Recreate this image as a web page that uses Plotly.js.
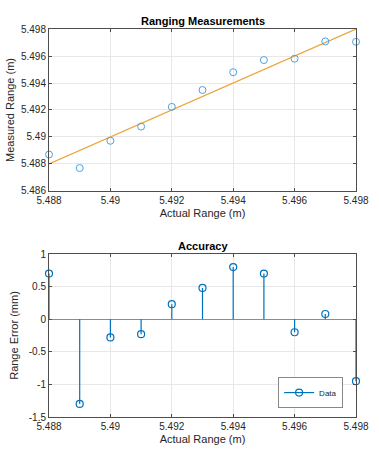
<!DOCTYPE html>
<html>
<head>
<meta charset="utf-8">
<script src="https://cdn.plot.ly/plotly-3.0.1.min.js"></script>
<style>html,body{margin:0;padding:0;background:#fff;}#chart{width:379px;height:456px;}</style>
</head>
<body>
<div id="chart"></div>
<script>
// Data
const actualRange = [5.488, 5.489, 5.490, 5.491, 5.492, 5.493, 5.494, 5.495, 5.496, 5.497, 5.498];
const measuredRange = [5.4887, 5.4877, 5.48972, 5.49077, 5.49223, 5.49348, 5.4948, 5.4957, 5.4958, 5.49708, 5.49705];
const rangeErrorMM = [0.7, -1.3, -0.28, -0.23, 0.23, 0.48, 0.8, 0.7, -0.2, 0.08, -0.95];
const idealX = [5.488, 5.498];
const idealY = [5.488, 5.498];
const xTickVals = [5.488, 5.490, 5.492, 5.494, 5.496, 5.498];
const xTickText = ['5.488', '5.49', '5.492', '5.494', '5.496', '5.498'];
const y1TickVals = [5.486, 5.488, 5.490, 5.492, 5.494, 5.496, 5.498];
const y1TickText = ['5.486', '5.488', '5.49', '5.492', '5.494', '5.496', '5.498'];
const y2TickVals = [-1.5, -1, -0.5, 0, 0.5, 1];
const y2TickText = ['-1.5', '-1', '-0.5', '0', '0.5', '1'];

const blue = '#0072BD';
const lightBlue = '#4DA3E0';
const orange = '#EDA53A';
const axCol = '#4d4d4d';
const txtCol = '#262626';
const font = 'Liberation Sans, Arial, Helvetica, sans-serif';

// stems built from data
const stemX = [], stemY = [];
actualRange.forEach((x, i) => { stemX.push(x, x, null); stemY.push(0, rangeErrorMM[i], null); });

const traces = [
  {x: idealX, y: idealY, mode: 'lines', line: {color: orange, width: 1.2}, xaxis: 'x', yaxis: 'y', showlegend: false, hoverinfo: 'skip'},
  {x: actualRange, y: measuredRange, mode: 'markers', cliponaxis: false, marker: {symbol: 'circle-open', size: 7, color: lightBlue, line: {width: 1}}, xaxis: 'x', yaxis: 'y', showlegend: false},
  {x: stemX, y: stemY, mode: 'lines', line: {color: blue, width: 1.2}, xaxis: 'x2', yaxis: 'y2', showlegend: false, hoverinfo: 'skip'},
  {x: actualRange, y: rangeErrorMM, mode: 'markers', cliponaxis: false, marker: {symbol: 'circle-open', size: 7, color: blue, line: {width: 1.2}}, xaxis: 'x2', yaxis: 'y2', showlegend: false},
  {x: [null], y: [null], mode: 'lines+markers', name: 'Data', line: {color: blue, width: 1.2}, marker: {symbol: 'circle-open', size: 7, color: blue, line: {width: 1.2}}, xaxis: 'x2', yaxis: 'y2', showlegend: true}
];

const axBase = {
  showline: true, linecolor: axCol, linewidth: 1, mirror: 'ticks',
  ticks: 'inside', ticklen: 3, tickcolor: axCol,
  showgrid: true, gridcolor: '#e8e8e8', gridwidth: 1,
  zeroline: false, tickfont: {size: 10, color: txtCol, family: font}
};

const layout = {
  width: 379, height: 456,
  margin: {l: 49, r: 23, t: 29, b: 39},
  paper_bgcolor: '#fff', plot_bgcolor: '#fff',
  font: {family: font, color: txtCol},
  showlegend: true,
  legend: {x: 0.958, y: 0.023, xanchor: 'right', yanchor: 'bottom', bgcolor: '#fff', bordercolor: '#888', borderwidth: 1, font: {size: 8, color: txtCol}, tracegroupgap: 0, itemwidth: 30},
  xaxis: Object.assign({}, axBase, {domain: [0, 1], range: [5.488, 5.498], tickvals: xTickVals, ticktext: xTickText, anchor: 'y',
    title: {text: 'Actual Range (m)', font: {size: 11, color: txtCol}, standoff: 4}}),
  yaxis: Object.assign({}, axBase, {domain: [0.5825, 1], range: [5.486, 5.498], tickvals: y1TickVals, ticktext: y1TickText, anchor: 'x',
    title: {text: 'Measured Range (m)', font: {size: 11, color: txtCol}, standoff: 4}}),
  xaxis2: Object.assign({}, axBase, {domain: [0, 1], range: [5.488, 5.498], tickvals: xTickVals, ticktext: xTickText, anchor: 'y2',
    title: {text: 'Actual Range (m)', font: {size: 11, color: txtCol}, standoff: 4}}),
  yaxis2: Object.assign({}, axBase, {domain: [0, 0.4201], range: [-1.5, 1], tickvals: y2TickVals, ticktext: y2TickText, anchor: 'x2',
    zeroline: true, zerolinecolor: '#8c8c8c', zerolinewidth: 1,
    title: {text: 'Range Error (mm)', font: {size: 11, color: txtCol}, standoff: 7}}),
  annotations: [
    {text: '<b>Ranging Measurements</b>', xref: 'paper', yref: 'paper', x: 0.5, y: 1, yanchor: 'bottom', yshift: 0, showarrow: false, font: {size: 11, color: '#000'}},
    {text: '<b>Accuracy</b>', xref: 'paper', yref: 'paper', x: 0.5, y: 0.4201, yanchor: 'bottom', yshift: 0, showarrow: false, font: {size: 11, color: '#000'}}
  ]
};

Plotly.newPlot('chart', traces, layout, {displayModeBar: false, staticPlot: true});
</script>
</body>
</html>
